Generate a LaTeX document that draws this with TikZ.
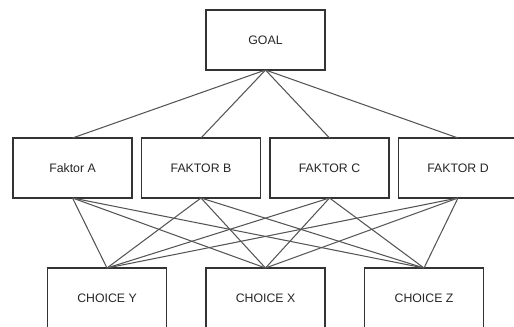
\documentclass[tikz,border=0pt]{standalone}
\usepackage{fontspec}
\setmainfont{Liberation Sans}
\usetikzlibrary{positioning}
\definecolor{boxline}{HTML}{333333}
\definecolor{linkline}{HTML}{555555}

\begin{document}
\begin{tikzpicture}[
    x=0.02cm, y=-0.02cm,
    font=\fontsize{7}{8}\selectfont,
    box/.style={draw=boxline, line width=0.6pt, fill=white, text=black!85,
        minimum width=2.38cm, minimum height=1.2cm, inner sep=0pt, outer sep=0pt},
    link/.style={draw=linkline, line width=0.6pt},
]
% Page frame (pixel grid of the reference)
\clip (0,0) rectangle (514,327);

% Goal level
\node[box] (goal) at (265.5,40) {GOAL};

% Criteria level
\foreach \x/\nm/\lbl in {72.5/fa/Faktor A, 201/fb/FAKTOR B, 329.5/fc/FAKTOR C, 458/fd/FAKTOR D} {
    \node[box] (\nm) at (\x,168) {\lbl};
}

% Alternatives level
\foreach \x/\nm/\lbl in {107/cy/CHOICE Y, 265.5/cx/CHOICE X, 424/cz/CHOICE Z} {
    \node[box] (\nm) at (\x,298) {\lbl};
}

% Goal to criteria
\foreach \f in {fa,fb,fc,fd} {
    \draw[link] (goal.south) -- (\f.north);
}

% Criteria to alternatives
\foreach \f in {fa,fb,fc,fd} {
    \foreach \c in {cy,cx,cz} {
        \draw[link] (\f.south) -- (\c.north);
    }
}

\end{tikzpicture}
\end{document}
